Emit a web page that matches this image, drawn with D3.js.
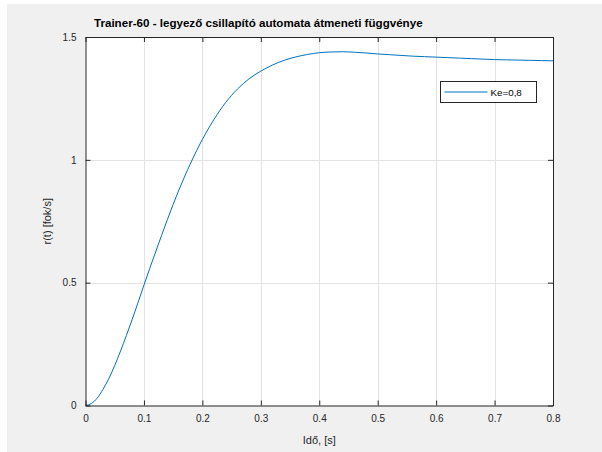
<!DOCTYPE html>
<html>
<head>
<meta charset="utf-8">
<script src="https://cdn.jsdelivr.net/npm/d3@7"></script>
<style>
  html, body { margin: 0; padding: 0; background: #ffffff; }
  svg { display: block; font-family: "Liberation Sans", Arial, Helvetica, sans-serif; }
</style>
</head>
<body>
<div id="chart"></div>
<script>
// time axis [s] and the response r(t) [fok/s]
var time = [0, 0.01, 0.02, 0.03, 0.04, 0.05, 0.06, 0.07, 0.08, 0.09, 0.10,
            0.12, 0.14, 0.16, 0.18, 0.20, 0.22, 0.24, 0.26, 0.28, 0.30,
            0.32, 0.34, 0.36, 0.38, 0.40, 0.42, 0.44, 0.46, 0.48, 0.50,
            0.52, 0.54, 0.56, 0.58, 0.60, 0.62, 0.64, 0.66, 0.68, 0.70,
            0.72, 0.74, 0.76, 0.78, 0.80];
var response = [0, 0.008, 0.030, 0.066, 0.110, 0.163, 0.222, 0.285, 0.351, 0.420, 0.490,
                0.625, 0.756, 0.878, 0.987, 1.083, 1.165, 1.234, 1.288, 1.330, 1.361,
                1.386, 1.405, 1.419, 1.429, 1.436, 1.439, 1.440, 1.438, 1.435, 1.431,
                1.428, 1.425, 1.422, 1.420, 1.418, 1.416, 1.414, 1.412, 1.410, 1.408,
                1.407, 1.406, 1.405, 1.404, 1.403];

var xTicks = [0, 0.1, 0.2, 0.3, 0.4, 0.5, 0.6, 0.7, 0.8];
var yTicks = [0, 0.5, 1, 1.5];
var legendLabel = 'Ke=0,8';

var W = 602, H = 452;
// plot box (note: "top" is a reserved window global, so use other names)
var plotLeft = 85.5, plotRight = 553, plotTop = 37, plotBottom = 405.5;
var axisColor = '#262626';

var svg = d3.select('#chart')
    .append('svg')
    .attr('width', W)
    .attr('height', H);

// figure background (grey), with the thin white strip of the screenshot
svg.append('rect')
    .attr('x', 7).attr('y', 4)
    .attr('width', W - 7).attr('height', H - 4)
    .attr('fill', '#f0f0f0');

var x = d3.scaleLinear().domain([0, 0.8]).range([plotLeft, plotRight]);
var y = d3.scaleLinear().domain([0, 1.5]).range([plotBottom, plotTop]);

// axes box background
svg.append('rect')
    .attr('x', plotLeft).attr('y', plotTop)
    .attr('width', plotRight - plotLeft).attr('height', plotBottom - plotTop)
    .attr('fill', '#ffffff');

// grid
svg.append('g').selectAll('line')
    .data(xTicks.slice(1, -1))
    .enter().append('line')
    .attr('x1', function (d) { return Math.round(x(d)) + 0.5; })
    .attr('x2', function (d) { return Math.round(x(d)) + 0.5; })
    .attr('y1', plotTop).attr('y2', plotBottom)
    .attr('stroke', '#e3e3e3').attr('stroke-width', 1);

svg.append('g').selectAll('line')
    .data(yTicks.slice(1, -1))
    .enter().append('line')
    .attr('y1', function (d) { return Math.round(y(d)) + 0.5; })
    .attr('y2', function (d) { return Math.round(y(d)) + 0.5; })
    .attr('x1', plotLeft).attr('x2', plotRight)
    .attr('stroke', '#e3e3e3').attr('stroke-width', 1);

// the step response
var line = d3.line()
    .x(function (d, i) { return x(time[i]); })
    .y(function (d) { return y(d); })
    .curve(d3.curveMonotoneX);

svg.append('path')
    .datum(response)
    .attr('d', line)
    .attr('fill', 'none')
    .attr('stroke', '#0072bd')
    .attr('stroke-width', 1);

// axes, MATLAB style: ticks inward on all four sides
function styleAxis(g) {
    g.selectAll('.domain').attr('stroke', axisColor).attr('stroke-width', 1);
    g.selectAll('.tick line').attr('stroke', axisColor);
    g.selectAll('.tick text').attr('fill', axisColor).style('font-size', '10px');
}

svg.append('g')
    .attr('transform', 'translate(0,' + plotBottom + ')')
    .call(d3.axisBottom(x).tickValues(xTicks).tickSizeInner(-5).tickSizeOuter(0).tickPadding(9)
        .tickFormat(function (d) { return d === 0 ? '0' : d3.format('.1f')(d); }))
    .call(styleAxis);

svg.append('g')
    .attr('transform', 'translate(0,' + plotTop + ')')
    .call(d3.axisTop(x).tickValues(xTicks).tickSizeInner(-5).tickSizeOuter(0).tickFormat(''))
    .call(styleAxis);

svg.append('g')
    .attr('transform', 'translate(' + plotLeft + ',0)')
    .call(d3.axisLeft(y).tickValues(yTicks).tickSizeInner(-5).tickSizeOuter(0).tickPadding(9)
        .tickFormat(function (d) { return String(d); }))
    .call(styleAxis);

svg.append('g')
    .attr('transform', 'translate(' + plotRight + ',0)')
    .call(d3.axisRight(y).tickValues(yTicks).tickSizeInner(-5).tickSizeOuter(0).tickFormat(''))
    .call(styleAxis);

// labels
svg.append('text')
    .attr('x', (plotLeft + plotRight) / 2).attr('y', 444)
    .attr('text-anchor', 'middle')
    .attr('fill', axisColor)
    .style('font-size', '11px')
    .text('Idő, [s]');

svg.append('text')
    .attr('transform', 'translate(51,' + ((plotTop + plotBottom) / 2) + ') rotate(-90)')
    .attr('text-anchor', 'middle')
    .attr('fill', axisColor)
    .style('font-size', '11px')
    .text('r(t) [fok/s]');

svg.append('text')
    .attr('x', 94).attr('y', 27)
    .attr('fill', '#000000')
    .style('font-size', '11.6px')
    .style('font-weight', 'bold')
    .text('Trainer-60 - legyező csillapító automata átmeneti függvénye');

// legend
var lg = svg.append('g').attr('transform', 'translate(440.5,81.5)');
lg.append('rect')
    .attr('width', 96).attr('height', 21)
    .attr('fill', '#ffffff')
    .attr('stroke', axisColor).attr('stroke-width', 1);
lg.append('line')
    .attr('x1', 4).attr('x2', 47)
    .attr('y1', 10.5).attr('y2', 10.5)
    .attr('stroke', '#0072bd').attr('stroke-width', 1);
lg.append('text')
    .attr('x', 50).attr('y', 14)
    .attr('fill', '#000000')
    .style('font-size', '9.8px')
    .text(legendLabel);
</script>
</body>
</html>
